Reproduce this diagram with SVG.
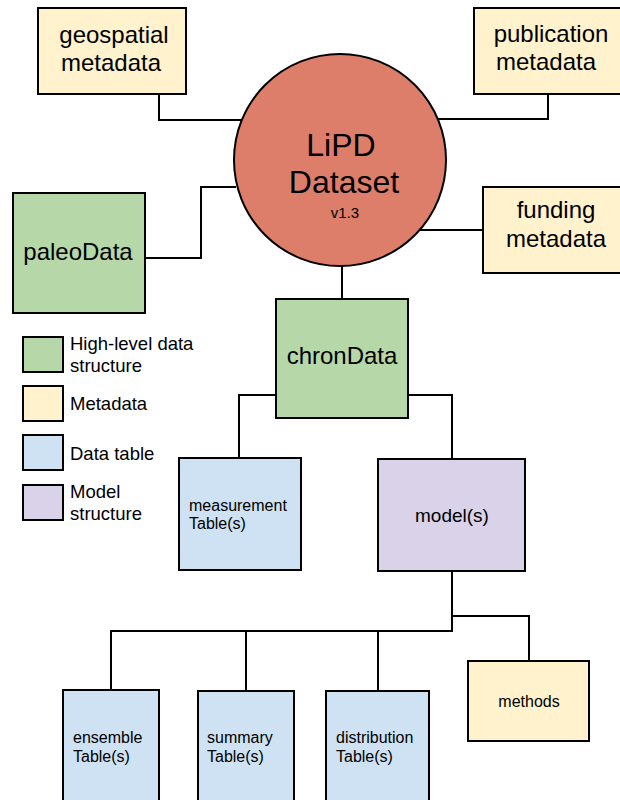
<svg xmlns="http://www.w3.org/2000/svg" width="620" height="800" viewBox="0 0 620 800">
<style>
.box{stroke:#000;stroke-width:2}
.meta{fill:#fff2cc}
.hl{fill:#b6d7a8}
.tab{fill:#cfe2f3}
.mod{fill:#d9d2e9}
.c{fill:none;stroke:#000;stroke-width:2}
text{font-family:"Liberation Sans",Arial,sans-serif;fill:#000}
.big{font-size:24px;text-anchor:middle}
.sm{font-size:16px}
.lg{font-size:18.5px}
</style>
<rect width="620" height="800" fill="#fff"/>
<g id="connectors">
<path class="c" d="M159,94 V120 H243"/>
<path class="c" d="M548,94 V119 H436"/>
<path class="c" d="M417,230 H483"/>
<path class="c" d="M145,258 H201 V187 H236"/>
<path class="c" d="M342,265 V299"/>
<path class="c" d="M276,395 H239 V458"/>
<path class="c" d="M408,395 H452 V459"/>
<path class="c" d="M452,571 V631 H111 V690"/>
<path class="c" d="M246,631 V691"/>
<path class="c" d="M378,631 V691"/>
<path class="c" d="M452,616 H529 V661"/>
</g>
<g id="lipd">
<circle cx="340" cy="160" r="106" fill="#dd7e6b" stroke="#000" stroke-width="2"/>
<text class="big" x="341" y="156" style="font-size:32px">LiPD</text>
<text class="big" x="344" y="193" style="font-size:32px">Dataset</text>
<text x="345" y="218" text-anchor="middle" font-size="15">v1.3</text>
</g>
<g id="geospatial">
<rect class="box meta" x="38" y="8" width="148" height="86"/>
<text class="big" x="114" y="43">geospatial</text>
<text class="big" x="111" y="71">metadata</text>
</g>
<g id="publication">
<rect class="box meta" x="474" y="8" width="160" height="86"/>
<text class="big" x="551" y="42">publication</text>
<text class="big" x="546" y="70">metadata</text>
</g>
<g id="funding">
<rect class="box meta" x="483" y="187" width="160" height="86"/>
<text class="big" x="556" y="218">funding</text>
<text class="big" x="556" y="247">metadata</text>
</g>
<g id="paleoData">
<rect class="box hl" x="13" y="193" width="132" height="120"/>
<text class="big" x="78" y="260">paleoData</text>
</g>
<g id="chronData">
<rect class="box hl" x="276" y="299" width="132" height="119"/>
<text class="big" x="342" y="364">chronData</text>
</g>
<g id="legend">
<rect class="box hl" x="23" y="337" width="40" height="35"/>
<text class="lg" x="70" y="350">High-level data</text>
<text class="lg" x="70" y="372">structure</text>
<rect class="box meta" x="23" y="386" width="40" height="35"/>
<text class="lg" x="70" y="410">Metadata</text>
<rect class="box tab" x="23" y="435" width="40" height="35"/>
<text class="lg" x="70" y="460">Data table</text>
<rect class="box mod" x="23" y="485" width="40" height="35"/>
<text class="lg" x="70" y="498">Model</text>
<text class="lg" x="70" y="520">structure</text>
</g>
<g id="measurement">
<rect class="box tab" x="179" y="458" width="122" height="112"/>
<text class="sm" x="189" y="511">measurement</text>
<text class="sm" x="189" y="529">Table(s)</text>
</g>
<g id="models">
<rect class="box mod" x="378" y="459" width="147" height="112"/>
<text x="452" y="522" text-anchor="middle" font-size="19">model(s)</text>
</g>
<g id="ensemble">
<rect class="box tab" x="63" y="690" width="96" height="130"/>
<text class="sm" x="73" y="743">ensemble</text>
<text class="sm" x="73" y="762">Table(s)</text>
</g>
<g id="summary">
<rect class="box tab" x="198" y="691" width="96" height="130"/>
<text class="sm" x="207" y="743">summary</text>
<text class="sm" x="207" y="762">Table(s)</text>
</g>
<g id="distribution">
<rect class="box tab" x="326" y="691" width="103" height="130"/>
<text class="sm" x="336" y="743">distribution</text>
<text class="sm" x="336" y="762">Table(s)</text>
</g>
<g id="methods">
<rect class="box meta" x="468" y="661" width="121" height="80"/>
<text class="sm" x="529" y="707" text-anchor="middle">methods</text>
</g>
</svg>
